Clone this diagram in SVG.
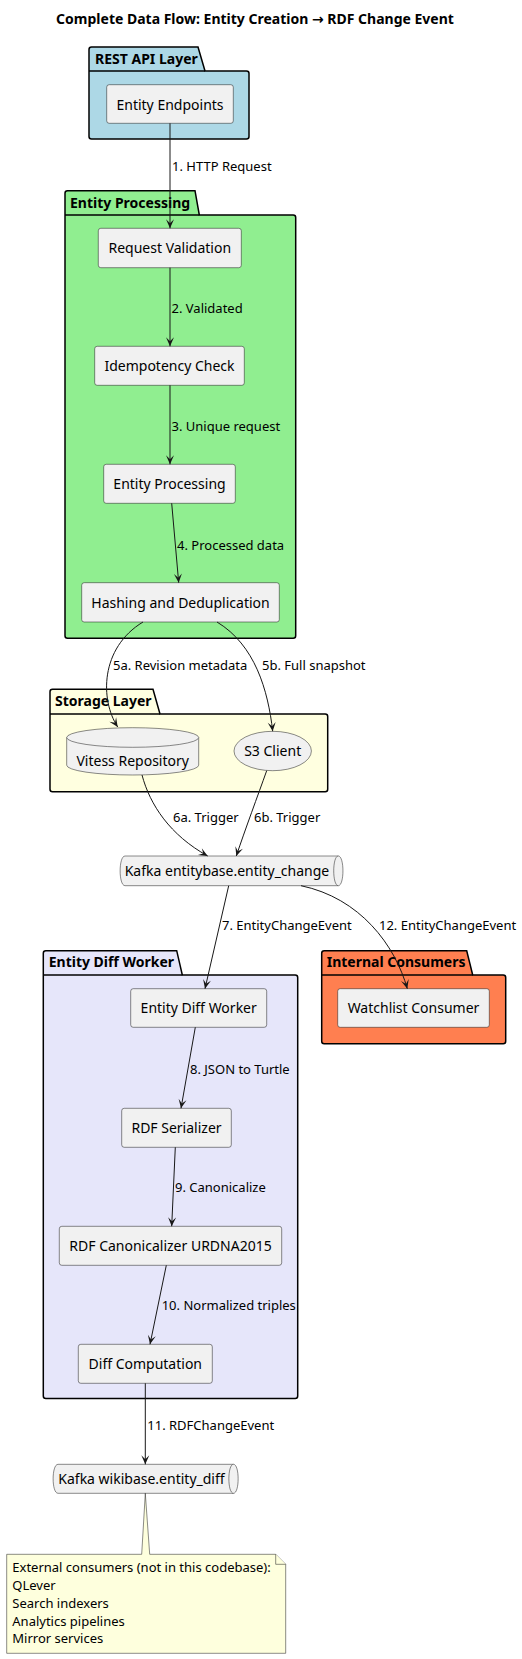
<svg xmlns="http://www.w3.org/2000/svg" width="522" height="1659" viewBox="0 0 522 1659">
<defs>
<marker id="ah" viewBox="-10 -5 11 10" refX="0" refY="0" markerWidth="11" markerHeight="10" markerUnits="userSpaceOnUse" orient="auto">
<path d="M0,0 L-9,-4 L-5,0 L-9,4 Z" fill="#181818"/>
</marker>
</defs>
<style>
text{font-family:"Noto Sans","Open Sans","DejaVu Sans",sans-serif;fill:#000}
.title{font-size:14px;font-weight:bold}
.pkg{stroke:#000;stroke-width:1.5}
.pl{font-size:14px;font-weight:bold}
.box{fill:#F1F1F1;stroke:#181818;stroke-width:0.5}
.bt{font-size:14px;text-anchor:middle}
.lnk{fill:none;stroke:#181818;stroke-width:1}
.ll{font-size:13px}
.note{fill:#FEFFDD;stroke:#181818;stroke-width:0.5}
.nt{font-size:13px}
</style>
<rect width="522" height="1659" fill="#fff"/>
<text class="title" x="255" y="24" text-anchor="middle">Complete Data Flow: Entity Creation → RDF Change Event</text>

<g id="pkg-rest">
<path class="pkg" fill="#ADD8E6" d="M89,49.5 Q89,47 91.5,47 L198,47 L205,71 L246.5,71 Q249,71 249,73.5 L249,136.5 Q249,139 246.5,139 L91.5,139 Q89,139 89,136.5 Z"/>
<path class="pkg" fill="none" d="M89,71 L205,71"/>
<text class="pl" x="95" y="64">REST API Layer</text>
</g>
<g id="pkg-proc">
<path class="pkg" fill="#90EE90" d="M65,193.2 Q65,190.7 67.5,190.7 L195,190.7 L199.3,215 L293.2,215 Q295.7,215 295.7,217.5 L295.7,635.8 Q295.7,638.3 293.2,638.3 L67.5,638.3 Q65,638.3 65,635.8 Z"/>
<path class="pkg" fill="none" d="M65,215 L199.3,215"/>
<text class="pl" x="70" y="208">Entity Processing</text>
</g>
<g id="pkg-storage">
<path class="pkg" fill="#FFFFE0" d="M50,691.8 Q50,689.3 52.5,689.3 L153,689.3 L160,714 L325.2,714 Q327.7,714 327.7,716.5 L327.7,789.2 Q327.7,791.7 325.2,791.7 L52.5,791.7 Q50,791.7 50,789.2 Z"/>
<path class="pkg" fill="none" d="M50,714 L160,714"/>
<text class="pl" x="55" y="706">Storage Layer</text>
</g>
<g id="pkg-diff">
<path class="pkg" fill="#E6E6FA" d="M43.3,953.2 Q43.3,950.7 45.8,950.7 L176.7,950.7 L182.3,975 L295.2,975 Q297.7,975 297.7,977.5 L297.7,1396 Q297.7,1398.5 295.2,1398.5 L45.8,1398.5 Q43.3,1398.5 43.3,1396 Z"/>
<path class="pkg" fill="none" d="M43.3,975 L182.3,975"/>
<text class="pl" x="48.7" y="966.7">Entity Diff Worker</text>
</g>
<g id="pkg-internal">
<path class="pkg" fill="#FF7F50" d="M321.7,953.2 Q321.7,950.7 324.2,950.7 L466.7,950.7 L472.7,975 L503.2,975 Q505.7,975 505.7,977.5 L505.7,1041.2 Q505.7,1043.7 503.2,1043.7 L324.2,1043.7 Q321.7,1043.7 321.7,1041.2 Z"/>
<path class="pkg" fill="none" d="M321.7,975 L472.7,975"/>
<text class="pl" x="326.7" y="966.7">Internal Consumers</text>
</g>

<g id="n-endpoints"><rect class="box" x="106.7" y="84.7" width="126.6" height="38.6" rx="2.5"/><text class="bt" x="170" y="109.5">Entity Endpoints</text></g>
<g id="n-validation"><rect class="box" x="98.3" y="228.3" width="143" height="39.4" rx="2.5"/><text class="bt" x="169.8" y="253">Request Validation</text></g>
<g id="n-idem"><rect class="box" x="94.7" y="346.3" width="149.6" height="39" rx="2.5"/><text class="bt" x="169.5" y="371">Idempotency Check</text></g>
<g id="n-process"><rect class="box" x="103.7" y="464.3" width="131.6" height="39" rx="2.5"/><text class="bt" x="169.5" y="489">Entity Processing</text></g>
<g id="n-hash"><rect class="box" x="81.7" y="582.7" width="197.6" height="39.3" rx="2.5"/><text class="bt" x="180.5" y="607.5">Hashing and Deduplication</text></g>
<g id="n-vitess">
<path class="box" d="M66.7,737.5 A66,9.8 0 0 1 198.7,737.5 L198.7,765.2 A66,9.8 0 0 1 66.7,765.2 Z"/>
<path class="box" fill="none" d="M66.7,737.5 A66,9.8 0 0 0 198.7,737.5"/>
<text class="bt" x="132.7" y="766">Vitess Repository</text>
</g>
<g id="n-s3"><ellipse class="box" cx="272.7" cy="751" rx="38.7" ry="19.7"/><text class="bt" x="272.7" y="756">S3 Client</text></g>
<g id="n-kafka-change">
<path class="box" d="M125,856 L338.3,856 C344.5,856 344.5,885.7 338.3,885.7 L125,885.7 C118.5,885.7 118.5,856 125,856 Z"/>
<path class="box" fill="none" d="M338.3,856 C332.2,856 332.2,885.7 338.3,885.7"/>
<text class="ll" style="font-size:14px" x="124.7" y="875.5">Kafka entitybase.entity_change</text>
</g>
<g id="n-diffworker"><rect class="box" x="130.7" y="988.7" width="136" height="38.6" rx="2.5"/><text class="bt" x="198.7" y="1013">Entity Diff Worker</text></g>
<g id="n-watchlist"><rect class="box" x="337.7" y="988.7" width="151.6" height="38.6" rx="2.5"/><text class="bt" x="413.5" y="1013">Watchlist Consumer</text></g>
<g id="n-serializer"><rect class="box" x="121.7" y="1108.3" width="109.6" height="39" rx="2.5"/><text class="bt" x="176.5" y="1133">RDF Serializer</text></g>
<g id="n-canon"><rect class="box" x="59.3" y="1226.3" width="222.4" height="39" rx="2.5"/><text class="bt" x="170.5" y="1251">RDF Canonicalizer URDNA2015</text></g>
<g id="n-diffcomp"><rect class="box" x="78.3" y="1344.3" width="134" height="39" rx="2.5"/><text class="bt" x="145.3" y="1368.5">Diff Computation</text></g>
<g id="n-kafka-diff">
<path class="box" d="M58,1464.3 L233.5,1464.3 C239.7,1464.3 239.7,1493.3 233.5,1493.3 L58,1493.3 C51.5,1493.3 51.5,1464.3 58,1464.3 Z"/>
<path class="box" fill="none" d="M233.5,1464.3 C227.3,1464.3 227.3,1493.3 233.5,1493.3"/>
<text class="ll" style="font-size:14px" x="58.3" y="1483.5">Kafka wikibase.entity_diff</text>
</g>
<g id="n-note">
<path class="note" d="M6.7,1554.3 L141.7,1554.3 L145.3,1493.3 L149.7,1554.3 L275.7,1554.3 L285.7,1564.3 L285.7,1653.3 L6.7,1653.3 Z"/>
<path class="note" d="M275.7,1554.3 L275.7,1564.3 L285.7,1564.3"/>
<text class="nt" x="12.3" y="1571.7">External consumers (not in this codebase):</text>
<text class="nt" x="12.3" y="1589.7">QLever</text>
<text class="nt" x="12.3" y="1607.7">Search indexers</text>
<text class="nt" x="12.3" y="1625.7">Analytics pipelines</text>
<text class="nt" x="12.3" y="1643.3">Mirror services</text>
</g>

<g id="connectors">
<path class="lnk" marker-end="url(#ah)" d="M170,123.3 L170,228.3"/>
<text class="ll" x="172" y="171">1. HTTP Request</text>
<path class="lnk" marker-end="url(#ah)" d="M170,267.7 L170,346.3"/>
<text class="ll" x="171.5" y="313">2. Validated</text>
<path class="lnk" marker-end="url(#ah)" d="M170,385.3 L170,464.3"/>
<text class="ll" x="171.5" y="431">3. Unique request</text>
<path class="lnk" marker-end="url(#ah)" d="M171.7,503.3 L178.7,582.7"/>
<text class="ll" x="177" y="549.5">4. Processed data</text>
<path class="lnk" marker-end="url(#ah)" d="M143,622 C100,648 100,700 117.7,727"/>
<text class="ll" x="113" y="669.5">5a. Revision metadata</text>
<path class="lnk" marker-end="url(#ah)" d="M217,622 C255,645 268,690 272.7,731.3"/>
<text class="ll" x="262" y="669.5">5b. Full snapshot</text>
<path class="lnk" marker-end="url(#ah)" d="M142,775 C150,805 170,835 207.7,856"/>
<text class="ll" x="173" y="822">6a. Trigger</text>
<path class="lnk" marker-end="url(#ah)" d="M266.7,770.7 C258,795 245,830 236.3,856"/>
<text class="ll" x="254" y="822">6b. Trigger</text>
<path class="lnk" marker-end="url(#ah)" d="M228.7,885.7 L205,988.7"/>
<text class="ll" x="222" y="930">7. EntityChangeEvent</text>
<path class="lnk" marker-end="url(#ah)" d="M301,885.7 C360,898 395,945 407.3,988.7"/>
<text class="ll" x="379" y="930">12. EntityChangeEvent</text>
<path class="lnk" marker-end="url(#ah)" d="M195.3,1027.3 L181,1108.3"/>
<text class="ll" x="190" y="1073.5">8. JSON to Turtle</text>
<path class="lnk" marker-end="url(#ah)" d="M175.3,1147.3 L171.7,1226.3"/>
<text class="ll" x="175" y="1192">9. Canonicalize</text>
<path class="lnk" marker-end="url(#ah)" d="M166.3,1265.3 L150,1344.3"/>
<text class="ll" x="161.7" y="1310">10. Normalized triples</text>
<path class="lnk" marker-end="url(#ah)" d="M145.3,1383.3 L145.3,1464.3"/>
<text class="ll" x="147.3" y="1430">11. RDFChangeEvent</text>
</g>
</svg>
